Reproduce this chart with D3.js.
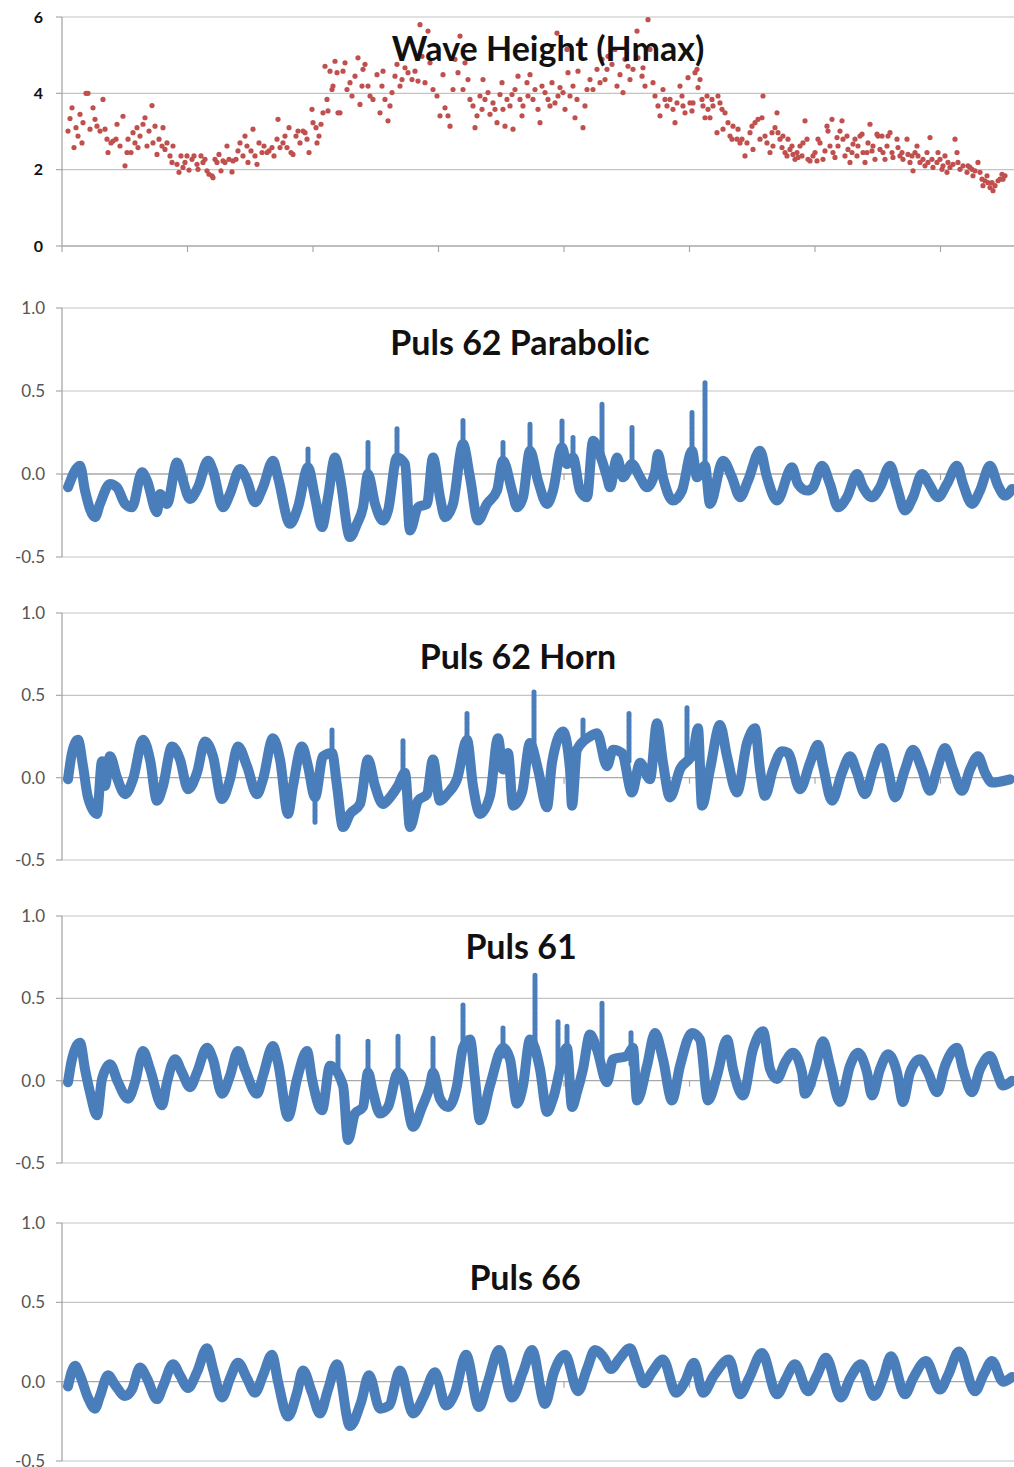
<!DOCTYPE html>
<html><head><meta charset="utf-8">
<script src="https://cdn.jsdelivr.net/npm/d3@7/dist/d3.min.js"></script>
<style>body{margin:0;background:#fff;} svg{display:block;}</style>
</head><body><svg id="c" width="1014" height="1467"></svg>
<script>
// ---------------- DATA ----------------
const xTicks = [0, 125.5, 251, 376.5, 502, 627.5, 753, 878.5];
const waveTicks = [0, 2, 4, 6];
const pulsTicks = [-0.5, 0.0, 0.5, 1.0];
const waveTitle = "Wave Height (Hmax)";
const pulsTitles = ["Puls 62 Parabolic", "Puls 62 Horn", "Puls 61", "Puls 66"];

// Wave height (Hmax), [sample, metres]
const waveHeight = [[6,3.01],[8,3.34],[10,3.62],[12,2.58],[14,3.1],[16,2.88],[18,3.45],[20,2.7],[21,3.23],[24,4.0],[26,4.0],[28,3.06],[31,3.62],[33,3.32],[35,3.14],[38,3.01],[41,3.84],[43,3.06],[45,2.8],[46,2.45],[49,2.7],[51,2.75],[54,2.8],[55,3.19],[58,2.62],[61,3.4],[63,2.1],[65,2.45],[66,2.8],[69,2.45],[71,2.97],[73,2.7],[75,3.1],[76,2.58],[78,2.88],[81,3.19],[83,3.36],[85,2.62],[87,3.01],[90,3.68],[91,2.7],[93,3.14],[95,2.4],[97,2.8],[100,2.62],[101,3.1],[103,2.53],[105,2.7],[108,2.36],[110,2.19],[111,2.62],[115,2.14],[117,1.93],[119,2.36],[121,2.06],[123,2.19],[125,2.36],[127,1.99],[130,2.27],[132,2.36],[135,2.14],[136,2.01],[139,2.36],[141,2.19],[143,2.27],[145,1.97],[147,1.88],[150,1.84],[151,1.79],[153,2.27],[155,2.19],[157,2.4],[159,1.97],[161,2.23],[163,2.19],[165,2.62],[167,2.27],[170,1.94],[171,2.23],[174,2.27],[176,2.49],[178,2.7],[181,2.36],[183,2.88],[185,2.62],[186,2.19],[189,2.49],[191,3.06],[193,2.36],[195,2.14],[197,2.7],[200,2.45],[202,2.62],[205,2.45],[207,2.49],[210,2.58],[212,2.36],[215,2.8],[216,3.32],[218,2.58],[221,2.7],[223,2.88],[225,2.58],[227,3.1],[229,2.45],[231,2.4],[234,2.88],[236,3.01],[238,2.7],[241,3.01],[243,2.97],[245,2.8],[247,2.45],[250,3.58],[251,3.23],[254,3.1],[255,2.7],[257,2.88],[259,3.19],[261,3.49],[263,4.71],[265,3.84],[266,3.54],[268,4.58],[270,4.1],[273,4.84],[275,4.54],[276,3.49],
[271,4.19],[278,3.49],[281,4.58],[283,4.8],[285,4.1],[288,4.28],[290,3.93],[293,4.45],[296,4.93],[298,3.71],[300,4.19],[301,4.63],[303,4.76],[306,4.19],[308,3.93],[311,3.84],[315,4.49],[318,3.49],[320,4.19],[321,4.58],[323,3.84],[326,3.28],[328,3.67],[330,4.02],[333,4.45],[335,4.76],[338,4.19],[340,4.36],[343,4.67],[346,4.54],[350,4.36],[353,4.58],[356,4.32],[358,5.8],[360,4.97],[363,4.28],[366,5.63],[368,4.8],[371,4.1],[375,3.93],[378,3.41],[381,4.49],[383,3.62],[386,3.41],[388,3.14],[391,4.1],[393,4.89],[396,4.54],[398,5.5],[401,4.1],[403,4.8],[406,4.36],[408,3.84],[411,3.67],[413,3.1],[415,3.41],[418,3.93],[420,3.58],[421,4.36],[423,3.84],[426,4.02],[428,3.45],[431,3.75],[433,3.58],[435,3.23],[438,3.97],[440,4.28],[441,3.58],[443,3.14],[445,3.84],[448,3.67],[450,3.97],[451,3.06],[453,4.1],[456,4.45],[458,3.84],[460,3.41],[461,3.67],[465,4.28],[466,3.93],[468,4.49],[471,3.84],[473,4.1],[476,3.58],[478,3.23],[480,4.19],[483,4.02],[486,3.84],[488,3.67],[490,4.28],[493,3.75],[495,5.58],[496,3.93],[498,4.15],[501,4.02],[503,3.58],[505,5.15],[506,4.54],[508,3.93],[511,4.19],[513,3.36],[515,3.84],[516,4.58],[518,5.32],[521,3.1],[523,3.67],[525,4.1],[528,4.36],[531,4.1],[535,4.63],[538,4.28],[540,4.89],[543,4.36],[545,4.63],[546,4.97],[550,4.76],[553,5.15],[555,4.19],[558,4.49],[561,4.02],[563,4.89],[566,4.71],[568,4.36],[571,4.63],[575,5.63],[576,4.93],[580,4.45],[581,4.67],[583,4.19],[586,5.93],[588,5.15],[591,4.28],[593,3.93],[596,3.67],[598,3.41],[601,4.1],[603,3.84],[605,3.67],
[608,3.84],[611,3.58],[613,3.23],[615,3.75],[618,4.19],[620,3.93],[621,3.67],[623,3.49],[626,4.41],[628,3.75],[630,3.54],[631,3.75],[633,4.54],[635,4.63],[636,4.15],[638,4.36],[640,3.84],[641,3.67],[643,3.36],[645,3.93],[646,3.58],[648,3.36],[650,3.84],[651,3.67],[655,2.97],[656,3.93],[658,3.75],[660,3.58],[661,3.06],[663,3.49],[666,3.23],[668,2.88],[670,2.8],[671,3.14],[675,2.8],[676,3.06],[678,2.7],[680,2.8],[683,2.36],[685,2.7],[688,2.97],[690,3.14],[691,2.53],[693,3.23],[696,3.32],[698,2.8],[700,3.36],[701,3.93],[703,2.88],[705,2.7],[708,2.45],[710,2.97],[711,2.62],[713,3.1],[715,3.49],[716,2.97],[718,2.8],[720,2.58],[721,2.88],[723,2.45],[725,2.36],[726,2.8],[728,2.53],[730,2.62],[731,2.4],[733,2.27],[735,2.45],[736,2.32],[738,2.62],[740,2.36],[741,2.7],[743,3.28],[745,2.8],[746,2.27],[748,2.23],[751,2.36],[753,2.45],[755,2.23],[756,2.8],[758,2.7],[761,2.27],[763,2.49],[765,3.14],[766,3.01],[768,2.62],[770,3.32],[771,2.45],[773,2.32],[775,2.84],[776,2.62],[778,3.01],[780,3.28],[781,2.8],[783,2.36],[785,2.88],[786,2.53],[788,2.19],[790,2.45],[791,2.67],[793,2.8],[795,2.36],[796,2.62],[798,2.88],[800,2.93],[801,2.45],[803,2.19],[805,2.45],[806,2.7],[808,3.19],[810,2.49],[811,2.62],[813,2.27],[815,2.93],[816,2.88],[818,2.53],[820,2.88],[821,2.45],[823,2.27],[825,2.62],[826,2.88],[828,2.97],[830,2.45],[831,2.32],[835,2.8],[836,2.58],[838,2.36],[840,2.45],[841,2.27],[845,2.8],[846,2.4],[848,2.19],[850,2.36],[851,1.97],[853,2.45],[855,2.62],[856,2.36],[858,2.19],[861,2.27],[863,2.1],[865,2.45],[866,2.19],[868,2.84],[870,2.27],[871,2.06],[875,2.19],[876,2.45],[878,2.27],[880,2.01],[881,2.1],[883,2.36],[885,1.93],[886,2.19],[888,2.06],[891,2.14],[893,2.8],[895,2.45],[896,2.19],[898,2.01],[901,2.1],[905,1.93],[906,2.1],[908,2.06],[910,2.01],[911,1.84],[913,1.97],[916,2.19],[918,1.93],[920,1.75],[921,1.58],[923,1.71],[925,1.84],[926,1.66],[928,1.53],[930,1.66],[931,1.45],[933,1.58],[936,1.71],[938,1.75],[940,1.88],[941,1.75],[943,1.84]];

// Puls 62 Parabolic: band trace [sample, value], spikes [sample, from, to]
const p62Parabolic = [[6,-0.08],[18,0.05],[23,-0.1],[33,-0.26],[38,-0.18],[48,-0.06],[55,-0.08],[63,-0.18],[70,-0.2],[80,0.01],[85,-0.04],[95,-0.23],[98,-0.12],[105,-0.18],[115,0.07],[120,-0.02],[128,-0.15],[136,-0.08],[146,0.08],[151,0.02],[161,-0.2],[168,-0.12],[178,0.03],[185,-0.04],[193,-0.17],[201,-0.08],[211,0.08],[216,-0.02],[228,-0.3],[236,-0.2],[246,0.04],[253,-0.14],[260,-0.32],[266,-0.14],[273,0.1],[278,-0.02],[288,-0.38],[295,-0.3],[301,-0.2],[306,0.0],[313,-0.18],[321,-0.28],[326,-0.22],[335,0.1],[343,0.06],[348,-0.34],[356,-0.2],[365,-0.18],[371,0.1],[378,-0.14],[383,-0.26],[391,-0.18],[401,0.18],[408,-0.02],[416,-0.28],[425,-0.18],[435,-0.1],[441,0.08],[450,-0.1],[455,-0.2],[461,-0.14],[468,0.14],[476,-0.04],[485,-0.18],[491,-0.1],[500,0.16],[505,0.06],[511,0.1],[518,-0.1],[525,-0.14],[531,0.2],[540,0.08],[545,-0.02],[548,-0.08],[555,0.1],[561,-0.02],[570,0.06],[578,-0.02],[585,-0.08],[593,0.01],[596,0.12],[601,-0.02],[611,-0.16],[620,-0.1],[630,0.14],[635,-0.02],[643,0.05],[648,-0.18],[661,0.08],[670,-0.02],[678,-0.14],[686,-0.04],[698,0.14],[705,-0.02],[715,-0.16],[730,0.04],[736,-0.06],[745,-0.1],[751,-0.08],[760,0.05],[768,-0.06],[776,-0.2],[785,-0.14],[795,0.0],[801,-0.08],[810,-0.14],[818,-0.08],[828,0.05],[835,-0.08],[843,-0.22],[851,-0.14],[860,0.0],[866,-0.05],[876,-0.14],[885,-0.06],[895,0.05],[901,-0.06],[910,-0.18],[918,-0.1],[928,0.05],[936,-0.07],[943,-0.13],[950,-0.09]];
const p62ParabolicSpikes = [[246,0.0,0.15],[306,-0.05,0.19],[335,0.05,0.28],[401,0.1,0.33],[441,0.05,0.19],[468,0.1,0.3],[500,0.1,0.32],[511,0.05,0.22],[540,0.1,0.42],[570,0.03,0.28],[630,0.1,0.37],[643,0.0,0.55]];

// Puls 62 Horn
const p62Horn = [[6,-0.01],[10,0.15],[16,0.23],[21,0.07],[26,-0.12],[35,-0.22],[40,0.1],[43,-0.05],[48,0.13],[55,0.0],[63,-0.1],[71,-0.01],[81,0.23],[88,0.11],[95,-0.14],[101,-0.05],[110,0.19],[118,0.11],[126,-0.07],[135,0.03],[143,0.22],[151,0.13],[160,-0.13],[168,-0.01],[176,0.19],[185,0.07],[195,-0.1],[201,-0.01],[211,0.24],[218,0.11],[226,-0.22],[231,-0.05],[240,0.19],[246,0.07],[253,-0.12],[261,0.13],[270,0.15],[275,-0.05],[281,-0.3],[288,-0.22],[298,-0.16],[306,0.11],[313,-0.05],[321,-0.16],[328,-0.12],[336,-0.05],[343,0.03],[348,-0.3],[356,-0.14],[365,-0.1],[371,0.11],[378,-0.14],[385,-0.1],[395,-0.01],[405,0.23],[411,-0.05],[418,-0.22],[428,-0.11],[436,0.24],[441,0.05],[446,0.15],[451,-0.17],[460,-0.09],[468,0.21],[476,0.05],[485,-0.18],[490,0.09],[501,0.28],[508,0.05],[510,-0.17],[515,0.17],[528,0.25],[535,0.27],[545,0.07],[551,0.17],[560,0.15],[570,-0.09],[578,0.09],[588,-0.01],[595,0.33],[601,0.09],[608,-0.12],[618,0.05],[631,0.15],[636,0.3],[640,-0.17],[648,0.05],[658,0.32],[665,0.13],[675,-0.09],[685,0.21],[693,0.3],[698,0.05],[703,-0.11],[711,0.05],[720,0.16],[726,0.15],[738,-0.07],[748,0.09],[756,0.2],[761,0.07],[770,-0.14],[780,0.03],[788,0.13],[795,0.03],[803,-0.1],[811,0.05],[820,0.18],[826,0.05],[833,-0.12],[843,0.05],[851,0.17],[860,0.05],[868,-0.08],[875,0.05],[883,0.18],[891,0.05],[900,-0.08],[908,0.05],[916,0.13],[923,0.03],[930,-0.03],[948,-0.01]];
const p62HornSpikes = [[253,-0.12,-0.27],[270,0.1,0.29],[341,0.0,0.23],[405,0.15,0.39],[472,0.15,0.52],[521,0.2,0.35],[567,0.1,0.39],[625,0.1,0.43]];

// Puls 61
const p61 = [[6,-0.01],[10,0.13],[18,0.23],[23,0.07],[28,-0.07],[35,-0.21],[40,0.01],[48,0.1],[56,-0.01],[66,-0.11],[73,-0.01],[81,0.18],[88,0.07],[100,-0.15],[105,-0.01],[113,0.13],[120,0.05],[128,-0.04],[135,0.05],[145,0.2],[151,0.13],[160,-0.08],[168,0.03],[176,0.18],[183,0.07],[195,-0.08],[201,0.03],[211,0.21],[216,0.11],[226,-0.22],[235,0.01],[245,0.18],[250,0.01],[260,-0.18],[268,0.09],[281,-0.03],[286,-0.36],[293,-0.2],[301,-0.16],[306,0.05],[311,-0.07],[318,-0.2],[326,-0.16],[336,0.05],[341,0.01],[351,-0.28],[360,-0.16],[368,-0.03],[371,0.05],[378,-0.11],[386,-0.16],[395,-0.03],[401,0.2],[408,0.25],[413,0.01],[418,-0.24],[428,-0.03],[441,0.2],[448,0.13],[455,-0.14],[461,-0.03],[468,0.25],[478,0.07],[485,-0.19],[491,-0.11],[505,0.2],[510,-0.16],[515,-0.07],[521,0.07],[528,0.28],[535,0.19],[545,-0.01],[551,0.13],[565,0.15],[571,0.2],[575,-0.12],[585,0.09],[593,0.29],[601,0.13],[610,-0.12],[618,0.09],[630,0.29],[638,0.25],[646,-0.12],[655,0.03],[665,0.25],[671,0.07],[681,-0.09],[691,0.19],[701,0.3],[708,0.07],[715,0.01],[723,0.11],[731,0.17],[740,0.05],[743,-0.08],[753,0.07],[761,0.24],[768,0.09],[778,-0.13],[788,0.09],[796,0.17],[805,0.05],[810,-0.09],[818,0.07],[826,0.16],[835,0.05],[841,-0.13],[848,0.05],[858,0.13],[866,0.05],[875,-0.07],[883,0.09],[895,0.2],[901,0.07],[910,-0.07],[918,0.07],[928,0.15],[935,0.05],[941,-0.03],[950,0.0]];
const p61Spikes = [[276,0.05,0.27],[306,0.0,0.24],[336,0.05,0.27],[371,0.0,0.26],[401,0.15,0.46],[441,0.15,0.32],[473,0.2,0.64],[496,0.0,0.36],[505,0.15,0.33],[540,0.15,0.47],[569,0.1,0.3]];

// Puls 66
const p66 = [[6,-0.03],[13,0.1],[18,0.04],[26,-0.1],[33,-0.17],[38,-0.09],[46,0.04],[53,-0.02],[63,-0.09],[70,-0.05],[78,0.09],[85,0.02],[95,-0.11],[101,-0.03],[111,0.11],[118,0.04],[126,-0.04],[135,0.06],[145,0.21],[151,0.08],[160,-0.1],[168,0.02],[176,0.12],[185,0.02],[193,-0.07],[201,0.04],[210,0.17],[216,0.0],[226,-0.22],[235,-0.07],[241,0.07],[250,-0.07],[258,-0.2],[266,-0.05],[275,0.11],[288,-0.28],[299,-0.13],[307,0.04],[318,-0.17],[327,-0.15],[338,0.07],[351,-0.2],[362,-0.09],[373,0.06],[384,-0.15],[393,-0.07],[404,0.17],[417,-0.16],[426,0.0],[437,0.2],[450,-0.1],[461,0.06],[470,0.2],[483,-0.14],[492,0.06],[503,0.17],[516,-0.06],[525,0.08],[533,0.2],[542,0.15],[549,0.08],[557,0.14],[568,0.21],[575,0.1],[582,-0.01],[590,0.06],[601,0.14],[614,-0.07],[623,0.0],[632,0.12],[641,-0.07],[652,0.04],[667,0.14],[678,-0.08],[687,0.02],[700,0.18],[715,-0.08],[724,0.02],[733,0.11],[746,-0.06],[755,0.04],[764,0.15],[779,-0.1],[788,0.02],[799,0.11],[812,-0.09],[821,0.02],[829,0.16],[843,-0.08],[851,0.02],[864,0.13],[878,-0.05],[886,0.04],[897,0.19],[913,-0.06],[922,0.05],[930,0.13],[941,0.0],[950,0.03]];
const p66Spikes = [];

// ---------------- DRAWING ----------------
const svg = d3.select("#c");
const W = 1014;
const x = d3.scaleLinear().domain([0, 952]).range([62, 1014]);
const gridColor = "#c4c4c4", axisColor = "#a8a8a8";
const red = "#c0504d", blue = "#4a7ebb";
const FONT = "Lato, 'Open Sans', sans-serif";

function frame(y, ticks, fmt, labelStyle, axisVal) {
  const g = svg.append("g");
  g.selectAll("line.grid").data(ticks.filter(t => t !== axisVal)).join("line")
    .attr("x1", x.range()[0]).attr("x2", W)
    .attr("y1", d => y(d)).attr("y2", d => y(d))
    .attr("stroke", gridColor).attr("stroke-width", 1.2);
  g.append("line").attr("x1", 62).attr("x2", 62)
    .attr("y1", y(ticks[ticks.length - 1])).attr("y2", y(ticks[0]))
    .attr("stroke", axisColor).attr("stroke-width", 1.3);
  g.selectAll("line.lt").data(ticks).join("line")
    .attr("x1", 56).attr("x2", 62).attr("y1", d => y(d)).attr("y2", d => y(d))
    .attr("stroke", axisColor).attr("stroke-width", 1.2);
  g.append("line").attr("x1", 62).attr("x2", W)
    .attr("y1", y(axisVal)).attr("y2", y(axisVal))
    .attr("stroke", axisColor).attr("stroke-width", 1.3);
  g.selectAll("line.xt").data(xTicks).join("line")
    .attr("x1", d => x(d)).attr("x2", d => x(d))
    .attr("y1", y(axisVal)).attr("y2", y(axisVal) + 6)
    .attr("stroke", axisColor).attr("stroke-width", 1.2);
  g.selectAll("text.tl").data(ticks).join("text")
    .attr("x", labelStyle.x).attr("y", d => y(d)).attr("dy", "0.36em")
    .attr("text-anchor", "end")
    .attr("font-family", FONT)
    .attr("font-size", labelStyle.size)
    .attr("font-weight", labelStyle.weight)
    .attr("fill", labelStyle.color)
    .text(fmt);
  return g;
}

function title(txt, cx, by) {
  svg.append("text").attr("x", cx).attr("y", by).attr("text-anchor", "middle")
    .attr("font-family", FONT)
    .attr("font-weight", "bold").attr("font-size", 34).attr("fill", "#111")
    .text(txt);
}

// Panel 1: wave height
const y1 = d3.scaleLinear().domain([0, 6]).range([246, 17]);
frame(y1, waveTicks, d => d, {x: 43, size: 16, weight: "bold", color: "#111"}, 0);
svg.append("g").selectAll("circle").data(waveHeight).join("circle")
  .attr("cx", d => x(d[0])).attr("cy", d => y1(d[1])).attr("r", 2.6).attr("fill", red);
title(waveTitle, 548, 61);

// Puls panels
const panels = [
  {data: p62Parabolic, spikes: p62ParabolicSpikes, range: [557, 308], title: pulsTitles[0], tx: 520, ty: 355},
  {data: p62Horn, spikes: p62HornSpikes, range: [860, 613], title: pulsTitles[1], tx: 518, ty: 669},
  {data: p61, spikes: p61Spikes, range: [1163, 916], title: pulsTitles[2], tx: 521, ty: 959},
  {data: p66, spikes: p66Spikes, range: [1461, 1223], title: pulsTitles[3], tx: 525, ty: 1290}
];
panels.forEach(p => {
  const y = d3.scaleLinear().domain([-0.5, 1.0]).range(p.range);
  frame(y, pulsTicks, d => d.toFixed(1), {x: 45, size: 17, weight: "normal", color: "#555"}, 0);
  title(p.title, p.tx, p.ty);
  const line = d3.line().x(d => x(d[0])).y(d => y(d[1])).curve(d3.curveMonotoneX);
  svg.append("path").datum(p.data).attr("d", line)
    .attr("fill", "none").attr("stroke", blue).attr("stroke-width", 10)
    .attr("stroke-linejoin", "round").attr("stroke-linecap", "round");
  svg.append("g").selectAll("line").data(p.spikes).join("line")
    .attr("x1", d => x(d[0])).attr("x2", d => x(d[0]))
    .attr("y1", d => y(d[1])).attr("y2", d => y(d[2]))
    .attr("stroke", blue).attr("stroke-width", 5).attr("stroke-linecap", "round")
    .attr("stroke-dasharray", "4,1.5");
});
</script></body></html>
